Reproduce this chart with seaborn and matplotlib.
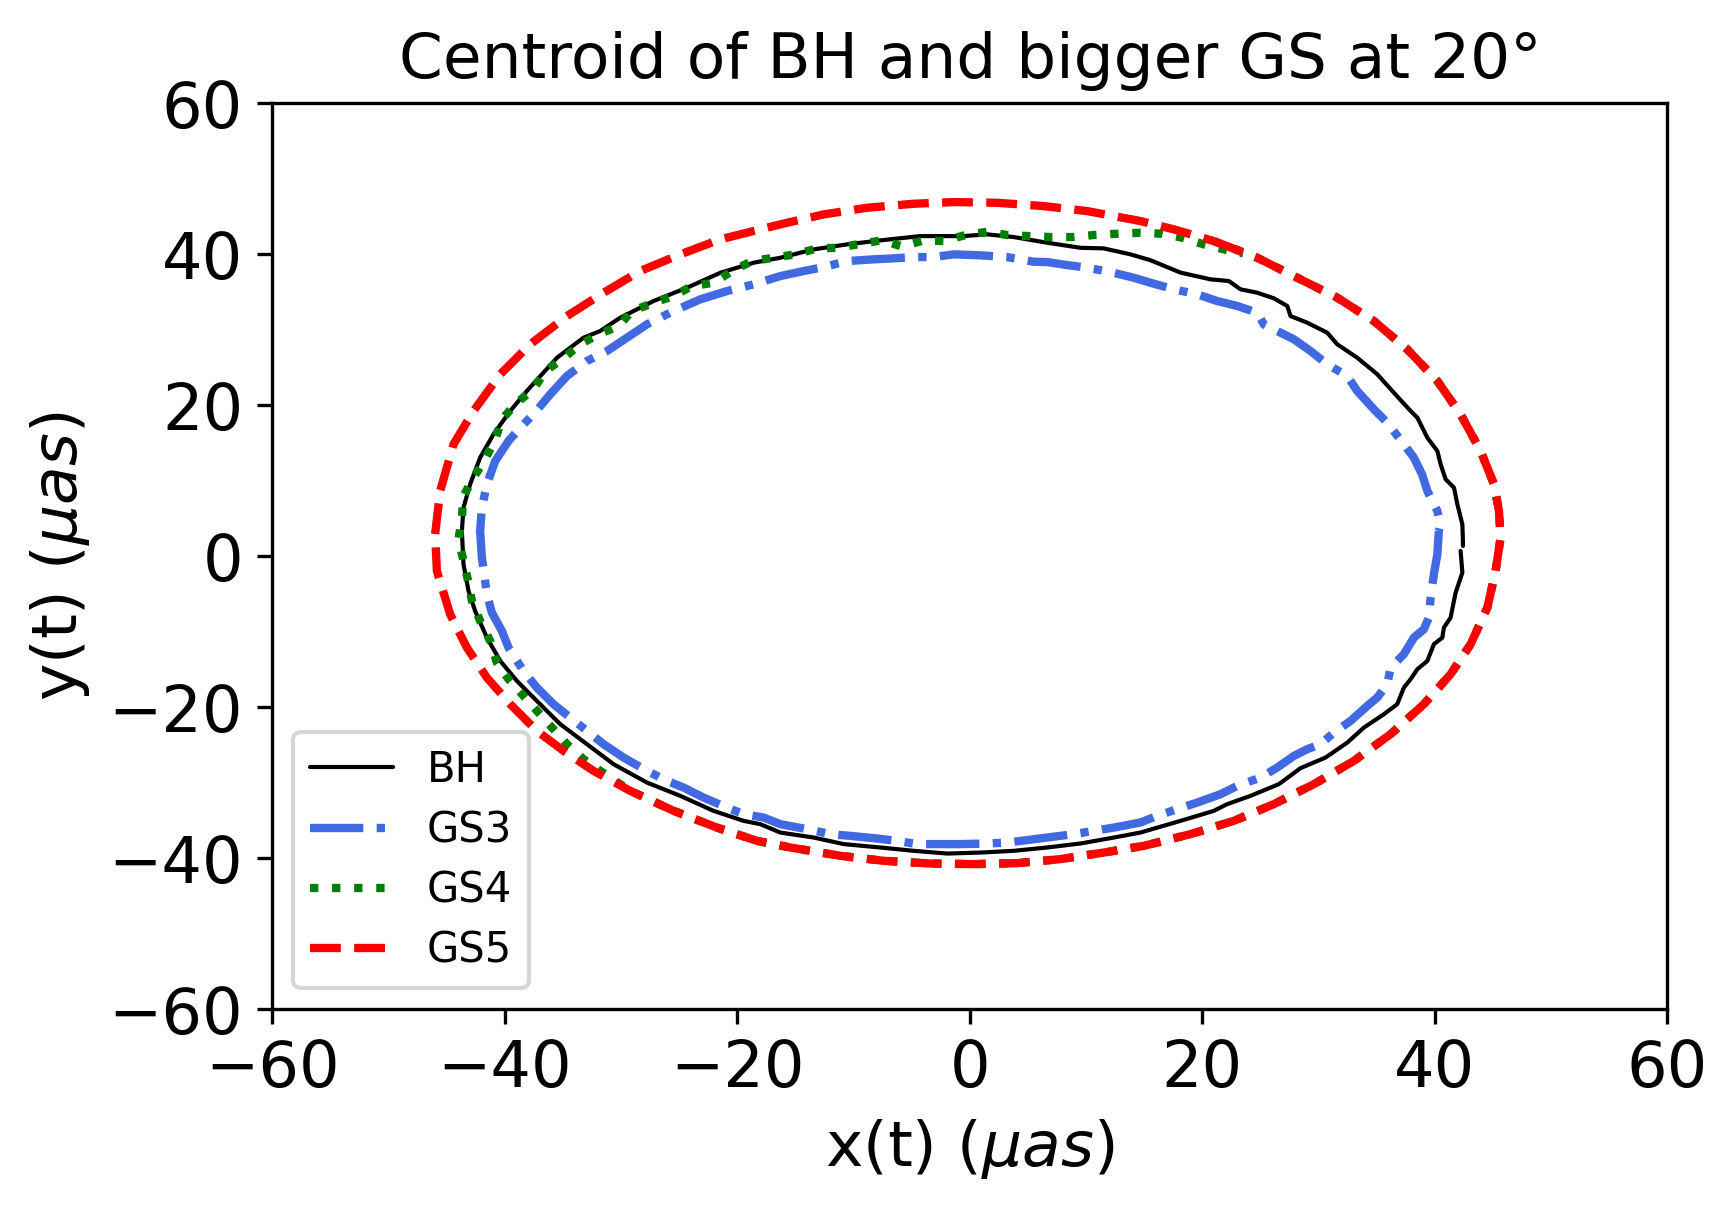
import matplotlib
matplotlib.use("Agg")
import matplotlib.pyplot as plt
import seaborn as sns
import pandas as pd

# ---------------- data ----------------
bh_x = [42.21, 42.36, 41.78, 41.35, 40.77, 40.64, 39.91, 39.35, 38.49, 37.91, 37.33, 36.76,
        35.61, 33.89, 32.46, 30.59, 28.44, 26.58, 24.14, 22.13, 20.98, 18.12, 14.67,
        12.38, 9.51, 6.64, 3.77, 0.90, -1.96, -4.84, -7.70, -10.86, -13.44, -16.31,
        -18.03, -19.47, -22.05, -24.91, -27.78, -30.65, -32.94, -35.24, -37.25, -38.97,
        -40.40, -41.55, -42.56, -43.13, -43.56, -43.70,
        -43.56, -42.99, -42.13, -40.98, -39.54, -38.11, -35.52, -33.24, -31.80, -30.08,
        -27.21, -24.34, -21.47, -18.61,
        -16.31, -13.44, -10.57, -7.70, -4.26, -0.53, 1.48, 3.77, 6.64, 9.51, 11.51, 13.81,
        15.50, 18.12, 20.70, 22.27, 23.28, 24.72, 26.14, 27.30, 27.58, 29.02, 30.74, 31.60,
        33.32, 35.04, 36.47, 37.91, 38.49, 39.35, 40.21, 40.49, 40.92, 41.64, 41.93, 42.36,
        42.41, 42.41]
bh_y = [0.69, -2.18, -4.83, -8.14, -9.46, -10.79, -11.66, -13.87, -14.97, -16.29, -17.41, -19.60,
        -20.93, -22.70, -24.69, -26.67, -28.07, -30.19, -31.74, -32.84, -33.73, -35.05, -36.60,
        -37.26, -38.05, -38.58, -39.02, -39.25, -39.38, -39.02, -38.58, -38.13, -37.26, -36.60,
        -35.49, -35.05, -33.73, -31.74, -29.98, -27.55, -24.90, -22.25, -19.17, -16.52,
        -13.87, -10.79, -7.25, -4.61, -1.07, 3.34,
        6.42, 9.52, 13.04, 16.14, 19.22, 21.87, 26.27, 28.92, 29.81, 31.57,
        33.78, 35.54, 37.52, 38.85,
        39.51, 40.62, 41.28, 41.81, 42.38, 42.38, 42.61, 42.25, 41.50, 40.83, 40.75, 39.96,
        39.20, 37.54, 36.65, 36.43, 35.33, 34.88, 34.14, 33.12, 31.79, 30.91, 29.58, 28.05,
        26.27, 24.08, 21.64, 19.22, 18.33, 15.68, 13.92, 12.16, 10.18, 9.07, 6.87, 4.22,
        2.01, 1.35]

gs3_x = [40.34, 40.21, 39.91, 39.63, 39.48, 39.05, 38.19, 37.33, 36.19, 35.90, 35.04, 34.18,
         32.75, 31.31, 30.16, 29.02, 27.87, 26.44, 25.00, 23.00, 21.56, 19.55, 17.83, 16.11,
         14.67, 12.38, 10.65, 8.93, 6.64, 4.92, 3.20, 1.48, -0.82, -2.82, -4.54, -6.27,
         -8.28, -10.28, -12.01, -14.01, -16.31,
         -17.75, -19.47, -20.90, -22.91, -24.63, -26.06, -27.78, -29.79, -31.51, -32.94,
         -34.38, -35.82, -37.25, -38.40, -39.69, -40.26, -41.12, -41.55, -41.70, -41.98, -42.13,
         -41.98, -41.55, -40.83, -39.69, -38.68, -37.54, -36.10, -34.66, -32.94, -31.22,
         -29.50, -27.78, -25.49, -23.19, -20.90, -18.61,
         -16.31, -14.30, -12.58, -10.57, -8.28, -6.56, -4.84, -3.12, -1.39, 0.90, 3.20,
         5.49, 6.64, 8.36, 10.09, 12.09, 14.10,
         15.53, 17.54, 19.55, 21.27, 23.00, 24.72, 25.28, 27.01, 27.87, 29.30, 30.74, 32.46,
         33.32, 34.75, 35.90, 37.33, 38.19, 38.90, 39.35, 40.21, 40.49, 40.34]
gs3_y = [3.34, 0.25, -2.40, -5.49, -8.14, -9.68, -10.79, -12.98, -14.76, -16.96, -18.73, -19.83,
         -21.81, -23.36, -24.90, -25.56, -26.45, -27.99, -29.32, -30.42, -31.52, -32.63, -33.50, -34.39,
         -35.27, -35.94, -36.37, -36.81, -37.26, -37.60, -37.92, -38.05, -38.13, -38.13, -38.13, -37.70,
         -37.34, -37.04, -36.81, -36.15, -35.49,
         -34.61, -34.16, -33.29, -31.97, -30.64, -29.76, -28.43, -26.67, -24.90, -23.14,
         -21.38, -19.60, -17.41, -15.20, -12.11, -9.90, -7.48, -5.04, -3.28, -0.20, 3.34,
         6.42, 9.52, 12.60, 15.25, 17.01, 18.78, 21.43, 23.85, 25.84, 27.16,
         28.92, 30.69, 32.46, 34.00, 35.10, 35.99,
         37.08, 37.75, 38.27, 39.07, 39.30, 39.43, 39.60, 39.60, 39.96, 39.83, 39.60,
         38.98, 38.94, 38.54, 38.19, 37.62, 36.86,
         36.20, 35.33, 34.67, 33.78, 33.12, 32.23, 30.69, 29.37, 28.71, 27.16, 25.40, 23.85,
         21.87, 19.44, 17.67, 14.81, 13.04, 10.80, 8.63, 5.98, 4.22, 3.34]

gs4_x = [20.98, 24.72, 28.16, 31.60, 34.75, 37.62, 40.21, 42.21, 43.93, 45.08, 45.51, 45.65,
         45.22, 44.51, 43.07, 41.35, 39.05, 36.19, 33.03, 29.59, 26.14, 22.70, 18.98, 14.96,
         11.51, 7.79, 4.06, 0.33, -3.40, -7.42, -11.14, -15.45, -18.31, -21.76, -25.49, -29.22,
         -31.80, -33.24, -34.66, -35.82, -37.11, -38.40, -39.69, -40.69, -41.27, -42.13, -42.84,
         -43.13, -43.56, -43.99, -43.70, -43.56, -42.70, -41.70, -40.83, -40.26, -38.97, -37.54,
         -36.53, -35.09, -33.52, -31.94, -30.22, -29.07, -27.21, -25.49, -23.91, -22.05, -20.46,
         -18.74, -16.88, -15.02, -13.15, -11.29, -9.42, -7.56, -5.83, -3.98, -2.25, -0.39, 1.48,
         3.20, 5.06, 6.93, 8.80, 10.65, 12.67, 14.67, 16.54, 18.26, 20.12, 21.84, 23.50]
gs4_y = [41.72, 39.51, 36.86, 34.22, 31.13, 27.39, 23.19, 18.78, 13.92, 9.52, 5.98, 2.45,
         -1.96, -6.82, -11.66, -15.63, -19.60, -23.57, -27.11, -30.19, -32.84, -35.05, -36.81, -38.36,
         -39.25, -40.12, -40.65, -40.78, -40.70, -40.34, -39.68, -38.58, -37.70, -35.94, -33.72, -31.08,
         -28.43, -26.88, -24.90, -22.91, -20.71, -18.50, -16.29, -14.10, -11.22, -8.58, -5.93,
         -3.51, -0.64, 2.24, 5.10, 7.97, 10.39, 12.83, 15.47, 18.12, 20.32, 22.09,
         24.51, 26.06, 28.05, 29.37, 30.47, 32.46, 33.55, 34.44, 35.76, 36.20, 37.75,
         39.07, 39.51, 39.96, 40.75, 40.83, 41.36, 41.81, 41.00, 41.81, 41.72, 42.52, 42.95,
         42.52, 42.38, 42.25, 42.25, 42.52, 42.69, 42.82, 42.69, 42.16, 41.28, 40.62, 40.10]

gs5_x = [20.98, 24.72, 28.16, 31.60, 34.75, 37.62, 40.21, 42.21, 43.93, 45.08, 45.51, 45.65,
         45.22, 44.51, 43.07, 41.35, 39.05, 36.19, 33.03, 29.59, 26.14, 22.70, 18.98, 14.96,
         11.51, 7.79, 4.06, 0.33, -3.40, -7.42, -11.14, -15.45, -18.31, -21.76, -25.49, -29.22,
         -32.38, -34.96, -37.25, -39.54, -41.55, -43.27, -44.71, -45.85, -46.00, -45.57, -44.42,
         -42.70, -40.40, -37.82, -34.66, -31.51, -28.36, -24.91, -21.47, -16.31, -12.58, -8.85,
         -4.84, -1.39, 2.34, 6.35, 10.09, 14.67, 17.54, 20.98]
gs5_y = [41.72, 39.51, 36.86, 34.22, 31.13, 27.39, 23.19, 18.78, 13.92, 9.52, 5.98, 2.45,
         -1.96, -6.82, -11.66, -15.63, -19.60, -23.57, -27.11, -30.19, -32.84, -35.05, -36.81, -38.36,
         -39.25, -40.12, -40.65, -40.78, -40.70, -40.34, -39.68, -38.58, -37.70, -35.94, -33.72, -31.08,
         -28.43, -25.78, -23.14, -19.60, -16.08, -12.11, -7.69, -1.96, 2.90, 8.63, 14.81,
         19.22, 24.08, 28.05, 31.79, 34.88, 37.75, 39.96, 41.95, 43.93, 45.25, 46.13,
         46.66, 46.88, 46.79, 46.35, 45.69, 44.37, 43.27, 41.72]

series_names = ["BH", "GS3", "GS4", "GS5"]
tick_values = [-60, -40, -20, 0, 20, 40, 60]

# ---------------- figure ----------------
sns.set_theme(style="ticks", rc={
    "axes.edgecolor": "black", "axes.labelcolor": "black", "text.color": "black",
    "xtick.color": "black", "ytick.color": "black", "axes.linewidth": 0.8,
    "xtick.major.width": 0.8, "ytick.major.width": 0.8,
    "xtick.major.size": 3.5, "ytick.major.size": 3.5,
})
plt.rcParams["font.family"] = ["DejaVu Sans"]

fig = plt.figure(figsize=(1736 / 300, 1209 / 300), dpi=300)
ax = fig.add_axes([0.1569, 0.1652, 0.8036, 0.7496])

curves = [
    (bh_x, bh_y, dict(color="black", linestyle="-", linewidth=1.0)),
    (gs3_x, gs3_y, dict(color="royalblue", linestyle="-.", linewidth=2.0)),
    (gs4_x, gs4_y, dict(color="green", linestyle=":", linewidth=2.0)),
    (gs5_x, gs5_y, dict(color="red", linestyle="--", linewidth=2.0)),
]
for name, (xs, ys, style) in zip(series_names, curves):
    df = pd.DataFrame({"x": xs, "y": ys})
    sns.lineplot(data=df, x="x", y="y", sort=False, estimator=None, ax=ax,
                 label=name, **style)

ax.set_xlim(-60, 60)
ax.set_ylim(-60, 60)
ax.set_xticks(tick_values)
ax.set_yticks(tick_values)
ax.tick_params(labelsize=15.3)
ax.set_xlabel(r"x(t) ($\mu as$)", fontsize=15.2)
ax.set_ylabel(r"y(t) ($\mu as$)", fontsize=15.2)
ax.set_title("Centroid of BH and bigger GS at 20°", fontsize=15.1)
for s in ax.spines.values():
    s.set_visible(True)
    s.set_color("black")

leg = ax.legend(loc="lower left", fontsize=10, labelspacing=0.44, frameon=True,
                fancybox=True, framealpha=0.8, edgecolor="0.8")

fig.savefig("out.png", dpi=300)
